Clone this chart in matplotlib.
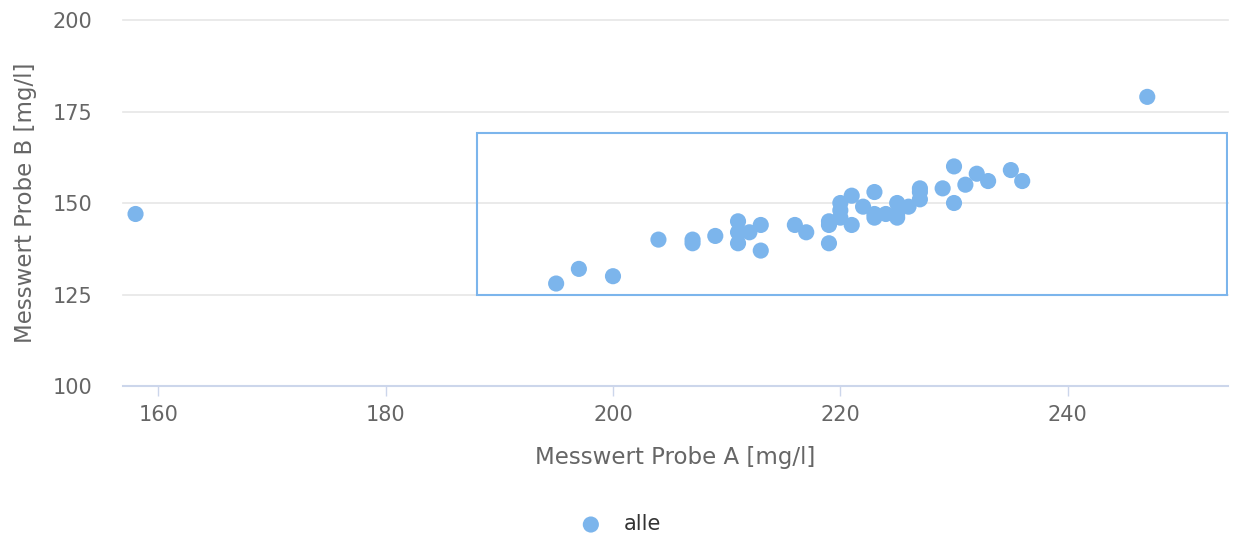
import numpy as np
import matplotlib.pyplot as plt
from matplotlib.patches import Rectangle

# data
probe_a = [158, 195, 197, 200, 204, 207, 207, 209, 211, 211, 211, 212, 213, 213,
           216, 217, 219, 219, 219, 220, 220, 220, 221, 221, 222, 223, 223, 223,
           224, 225, 225, 225, 226, 227, 227, 227, 229, 230, 230, 231, 232, 233,
           235, 236, 247]
probe_b = [147, 128, 132, 130, 140, 140, 139, 141, 145, 142, 139, 142, 144, 137,
           144, 142, 145, 144, 139, 150, 148, 146, 152, 144, 149, 153, 147, 146,
           147, 150, 147, 146, 149, 154, 153, 151, 154, 160, 150, 155, 158, 156,
           159, 156, 179]
box_x = [188, 254]
box_y = [125, 169]
x_ticks = [160, 180, 200, 220, 240]
y_ticks = [100, 125, 150, 175, 200]

blue = '#7cb5ec'
label_col = '#666666'

fig = plt.figure(figsize=(12.39, 5.35), dpi=100)
ax = fig.add_axes([0.0993, 0.2785, 0.8918, 0.6841])

ax.scatter(probe_a, probe_b, s=135, color=blue, edgecolors='none', zorder=3, label='alle')

ax.add_patch(Rectangle((box_x[0], box_y[0]), box_x[1] - box_x[0], box_y[1] - box_y[0],
                       fill=False, edgecolor=blue, linewidth=1.5, zorder=4))

ax.set_xlim(156.9, 254.1)
ax.set_ylim(100, 200)
ax.set_xticks(x_ticks)
ax.set_yticks(y_ticks)

ax.grid(axis='y', color='#e6e6e6', linewidth=1.2)
for gl in ax.get_ygridlines():
    gl.set_clip_on(False)
ax.set_axisbelow(True)
for side in ['top', 'right', 'left']:
    ax.spines[side].set_visible(False)
ax.spines['bottom'].set_color('#ccd6eb')
ax.spines['bottom'].set_linewidth(1.5)

ax.tick_params(axis='x', length=7, width=1, color='#ccd6eb', labelcolor=label_col,
               labelsize=15, pad=7)
ax.tick_params(axis='y', length=0, labelcolor=label_col, labelsize=15, pad=22)

ax.set_xlabel('Messwert Probe A [mg/l]', fontsize=16.5, color=label_col, labelpad=15)
ax.set_ylabel('Messwert Probe B [mg/l]', fontsize=16.5, color=label_col, labelpad=11)

fig.legend(loc='center', bbox_to_anchor=(0.497, 1 - 524 / 535), frameon=False,
           fontsize=15, labelcolor='#333333', handletextpad=0.6, markerscale=1.0)

fig.savefig('out.png', dpi=100)
